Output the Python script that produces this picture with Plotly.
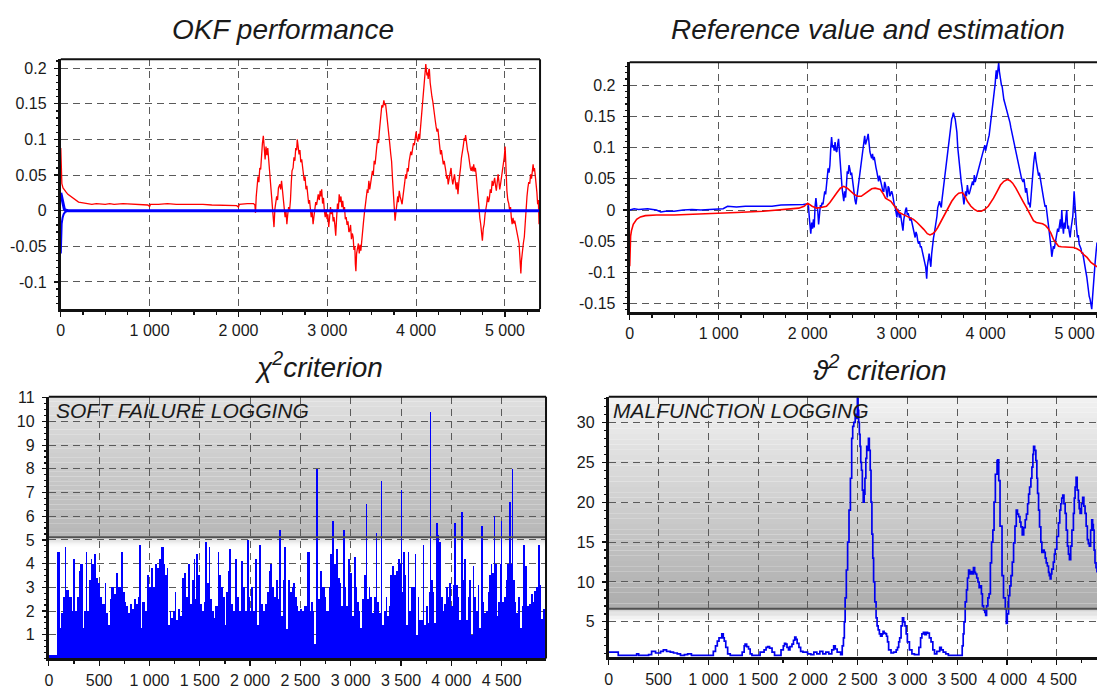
import plotly.graph_objects as go
import numpy as np

# ---------------- DATA ----------------
# Top-left: OKF performance (red = estimation error, blue = filter bounds)
TL_RED = [(0,0.088),(6,0.055),(12,0.038),(25,0.032),(40,0.029),(60,0.026),(80,0.023),(100,0.021),(130,0.018),(160,0.015),(200,0.012),(250,0.011),(300,0.010),(350,0.009),(400,0.010),(450,0.009),(500,0.009),(550,0.010),(600,0.009),(700,0.010),(800,0.009),(900,0.009),(980,0.008),(1000,0.006),(1010,0.009),(1100,0.009),(1200,0.010),(1300,0.009),(1400,0.009),(1500,0.010),(1600,0.009),(1700,0.008),(1800,0.008),(1900,0.007),(1980,0.007),(2000,0.005),(2010,0.009),(2100,0.010),(2170,0.010),(2185,0.008),(2192,-0.003),
(2200,0.020),(2210,0.035),(2220,0.048),(2230,0.040),(2240,0.060),(2250,0.058),(2260,0.080),(2270,0.095),(2280,0.105),(2290,0.085),(2300,0.072),(2310,0.090),(2320,0.078),(2330,0.088),(2340,0.070),(2350,0.064),(2360,0.045),(2370,0.030),(2380,0.010),(2390,-0.005),(2400,-0.023),(2410,0.002),(2420,0.009),(2430,0.020),(2440,0.015),(2450,0.032),(2466,0.037),(2475,0.030),(2485,0.042),(2495,0.030),(2505,0.018),(2515,0.005),(2525,-0.009),(2535,0.000),(2545,-0.019),(2555,-0.005),(2565,0.005),(2575,0.000),(2585,0.014),(2595,0.040),(2603,0.056),(2615,0.060),(2625,0.075),(2635,0.070),(2645,0.088),(2655,0.085),(2662,0.100),(2672,0.090),(2682,0.079),(2692,0.085),(2702,0.068),(2712,0.072),(2721,0.060),(2730,0.050),(2740,0.042),(2750,0.048),(2760,0.030),(2770,0.035),(2780,0.023),(2790,0.010),(2800,0.015),(2810,0.002),(2819,-0.009),(2830,-0.002),(2840,-0.019),(2850,-0.008),(2860,0.005),(2870,0.012),(2880,0.008),(2890,0.020),(2898,0.023),(2910,0.015),(2920,0.028),(2930,0.020),(2937,0.030),(2947,0.010),(2957,0.018),(2967,0.000),(2977,-0.009),(2987,0.002),(2997,-0.012),(3006,-0.005),(3016,-0.023),(3026,-0.010),(3036,0.005),(3046,-0.005),(3056,0.002),(3066,-0.015),(3075,-0.009),(3085,-0.020),(3095,-0.035),(3105,-0.010),(3115,0.010),(3125,0.002),(3134,0.023),(3144,0.012),(3154,0.020),(3164,0.005),(3174,0.014),(3184,0.000),(3194,0.005),(3203,-0.012),(3213,-0.009),(3223,-0.020),(3233,-0.015),(3243,-0.030),(3252,-0.028),(3262,-0.020),(3272,-0.040),(3282,-0.032),(3291,-0.037),(3300,-0.055),(3310,-0.050),(3316,-0.075),(3322,-0.085),(3330,-0.060),(3340,-0.050),(3350,-0.046),(3360,-0.060),(3370,-0.048),(3378,-0.056),(3390,-0.035),(3400,-0.025),(3409,-0.014),(3419,-0.002),(3429,0.009),(3440,0.020),(3450,0.030),(3458,0.025),(3468,0.042),(3478,0.030),(3488,0.037),(3498,0.048),(3508,0.056),(3518,0.050),(3528,0.070),(3538,0.065),(3547,0.083),(3557,0.090),(3567,0.100),(3577,0.095),(3586,0.111),(3596,0.125),(3606,0.135),(3614,0.148),(3625,0.145),(3637,0.155),(3647,0.148),(3656,0.150),(3665,0.140),(3675,0.125),(3685,0.111),(3695,0.100),(3704,0.093),(3714,0.080),(3724,0.069),(3734,0.045),(3744,0.028),(3754,0.005),(3763,-0.014),(3773,-0.002),(3783,0.009),(3793,0.020),(3800,0.012),(3810,0.028),(3820,0.020),(3830,0.015),(3842,0.009),(3852,0.020),(3862,0.028),(3872,0.040),(3881,0.051),(3891,0.045),(3901,0.060),(3911,0.055),(3921,0.069),(3930,0.075),(3940,0.083),(3950,0.078),(3960,0.088),(3970,0.095),(3980,0.092),(3990,0.105),(4000,0.111),(4010,0.100),(4020,0.097),(4030,0.108),(4040,0.100),(4046,0.111),(4056,0.125),(4066,0.139),(4076,0.150),(4086,0.171),(4096,0.185),(4103,0.195),(4109,0.206),(4115,0.198),(4122,0.190),(4129,0.194),(4136,0.185),(4143,0.198),(4149,0.199),(4158,0.180),(4168,0.167),(4178,0.160),(4188,0.153),(4198,0.140),(4206,0.135),(4215,0.127),(4225,0.118),(4235,0.111),(4245,0.115),(4255,0.102),(4265,0.090),(4275,0.079),(4285,0.085),(4296,0.070),(4306,0.065),(4316,0.070),(4325,0.058),(4334,0.056),(4344,0.045),(4352,0.050),(4361,0.037),(4371,0.045),(4382,0.055),(4393,0.060),(4403,0.045),(4413,0.037),(4423,0.045),(4432,0.051),(4442,0.040),(4452,0.030),(4462,0.040),(4471,0.023),(4481,0.040),(4490,0.056),(4500,0.060),(4510,0.074),(4520,0.080),(4530,0.090),(4542,0.102),(4550,0.098),(4557,0.106),(4567,0.092),(4578,0.085),(4589,0.079),(4599,0.068),(4610,0.060),(4620,0.056),(4630,0.062),(4640,0.055),(4648,0.065),(4658,0.055),(4667,0.060),(4676,0.051),(4686,0.035),(4696,0.015),(4707,0.000),(4717,-0.010),(4727,-0.019),(4737,-0.030),(4746,-0.042),(4756,-0.025),(4766,-0.019),(4776,-0.005),(4785,0.000),(4794,0.009),(4804,0.020),(4815,0.012),(4825,0.018),(4835,0.030),(4846,0.025),(4856,0.042),(4866,0.035),(4875,0.040),(4884,0.046),(4894,0.035),(4903,0.028),(4913,0.040),(4923,0.051),(4933,0.040),(4941,0.030),(4950,0.037),(4960,0.045),(4971,0.055),(4982,0.069),(4992,0.075),(5002,0.090),(5008,0.060),(5015,0.040),(5022,0.028),(5032,0.015),(5043,0.010),(5053,0.000),(5063,0.005),(5072,-0.010),(5081,-0.019),(5091,-0.010),(5100,-0.018),(5110,-0.014),(5120,-0.022),(5130,-0.028),(5140,-0.032),(5150,-0.040),(5159,-0.046),(5166,-0.060),(5172,-0.075),(5179,-0.088),(5186,-0.070),(5193,-0.060),(5199,-0.051),(5208,-0.045),(5218,-0.037),(5228,-0.015),(5238,0.000),(5248,0.020),(5258,0.032),(5268,0.040),(5279,0.038),(5289,0.051),(5299,0.045),(5308,0.055),(5317,0.065),(5325,0.055),(5332,0.060),(5340,0.051),(5350,0.040),(5360,0.025),(5368,0.009),(5376,0.015),(5384,-0.019),(5395,0.005)]
TL_BLUE_UP = [(0,0.025),(8,0.020),(16,0.012),(26,0.006),(40,0.002),(60,0.0005),(85,0.0),(5395,0.0)]
TL_BLUE_LO = [(0,-0.060),(4,-0.035),(10,-0.018),(20,-0.010),(32,-0.005),(48,-0.002),(65,-0.001),(85,0.0)]

# Top-right: reference value (blue) and estimation (red)
TR_BLUE = [(0,0.0),(50,0.002),(100,0.001),(200,0.002),(300,0.0),(350,-0.003),(400,-0.002),(500,-0.002),(600,0.0),(700,0.001),(800,0.0),(900,0.001),(1000,0.002),(1050,0.002),(1100,0.006),(1200,0.005),(1300,0.006),(1400,0.006),(1500,0.007),(1600,0.006),(1700,0.008),(1800,0.008),(1900,0.009),(1950,0.009),(2000,0.010),
(2010,0.005),(2020,-0.015),(2028,-0.025),(2035,-0.038),(2045,-0.020),(2055,-0.030),(2065,-0.015),(2074,-0.028),(2083,0.005),(2093,0.019),(2103,0.005),(2113,0.0),(2123,-0.023),(2133,-0.005),(2143,0.008),(2152,0.004),(2162,0.012),(2172,0.009),(2182,0.020),(2192,0.030),(2202,0.025),(2211,0.040),(2220,0.055),(2230,0.067),(2240,0.060),(2250,0.072),(2260,0.100),(2269,0.117),(2279,0.100),(2289,0.104),(2298,0.095),(2308,0.109),(2318,0.095),(2328,0.093),(2337,0.105),(2347,0.114),(2357,0.095),(2367,0.080),(2377,0.055),(2387,0.035),(2396,0.025),(2406,0.014),(2416,0.030),(2426,0.020),(2436,0.040),(2445,0.062),(2455,0.058),(2465,0.072),(2475,0.065),(2484,0.056),(2494,0.060),(2504,0.046),(2514,0.040),(2523,0.030),(2533,0.015),(2543,0.009),(2553,0.020),(2563,0.025),(2572,0.035),(2582,0.046),(2592,0.060),(2602,0.072),(2611,0.085),(2621,0.093),(2631,0.105),(2641,0.119),(2650,0.105),(2660,0.109),(2670,0.115),(2680,0.122),(2690,0.105),(2700,0.093),(2709,0.088),(2719,0.083),(2729,0.090),(2738,0.080),(2748,0.085),(2758,0.072),(2768,0.068),(2777,0.062),(2787,0.055),(2797,0.046),(2807,0.055),(2816,0.050),(2826,0.042),(2836,0.040),(2846,0.030),(2856,0.030),(2865,0.045),(2875,0.040),(2885,0.028),(2895,0.020),(2905,0.038),(2915,0.035),(2924,0.022),(2934,0.025),(2944,0.030),(2954,0.025),(2964,0.015),(2973,0.009),(2983,0.005),(2993,-0.002),(3003,-0.012),(3013,0.002),(3022,-0.005),(3032,-0.012),(3042,-0.005),(3052,-0.017),(3061,-0.025),(3071,-0.033),(3081,-0.015),(3091,-0.005),(3100,0.000),(3110,0.004),(3120,-0.008),(3130,-0.005),(3140,-0.012),(3150,-0.017),(3160,-0.012),(3170,-0.020),(3179,-0.023),(3189,-0.030),(3199,-0.038),(3208,-0.044),(3218,-0.035),(3228,-0.040),(3238,-0.050),(3247,-0.054),(3257,-0.050),(3267,-0.060),(3276,-0.058),(3286,-0.065),(3296,-0.070),(3306,-0.075),(3316,-0.080),(3326,-0.091),(3332,-0.100),(3338,-0.110),(3345,-0.090),(3352,-0.086),(3358,-0.078),(3365,-0.070),(3372,-0.082),(3378,-0.088),(3384,-0.091),(3394,-0.070),(3404,-0.054),(3414,-0.045),(3423,-0.038),(3433,-0.030),(3443,-0.023),(3453,-0.010),(3462,0.004),(3472,0.010),(3482,0.014),(3492,0.008),(3502,0.004),(3511,0.018),(3521,0.030),(3531,0.042),(3541,0.051),(3550,0.065),(3560,0.077),(3570,0.085),(3580,0.093),(3590,0.110),(3599,0.125),(3609,0.135),(3619,0.146),(3629,0.150),(3638,0.156),(3648,0.150),(3658,0.146),(3668,0.135),(3677,0.125),(3687,0.100),(3697,0.083),(3707,0.070),(3716,0.051),(3726,0.045),(3736,0.035),(3746,0.020),(3756,0.009),(3766,0.020),(3775,0.030),(3785,0.022),(3795,0.040),(3805,0.030),(3814,0.025),(3824,0.030),(3834,0.035),(3844,0.040),(3853,0.046),(3863,0.040),(3873,0.056),(3883,0.045),(3892,0.050),(3902,0.058),(3912,0.062),(3922,0.070),(3931,0.072),(3941,0.078),(3951,0.083),(3961,0.088),(3970,0.093),(3980,0.098),(3991,0.104),(4000,0.095),(4010,0.100),(4020,0.108),(4030,0.114),(4040,0.120),(4049,0.130),(4059,0.145),(4069,0.161),(4079,0.170),(4089,0.182),(4099,0.190),(4108,0.203),(4114,0.215),(4120,0.224),(4127,0.210),(4133,0.219),(4140,0.228),(4147,0.236),(4155,0.222),(4162,0.214),(4170,0.205),(4178,0.200),(4186,0.198),(4195,0.185),(4205,0.177),(4215,0.172),(4225,0.167),(4235,0.160),(4245,0.156),(4255,0.150),(4264,0.146),(4274,0.140),(4284,0.132),(4294,0.125),(4304,0.119),(4314,0.112),(4323,0.109),(4333,0.100),(4343,0.093),(4353,0.085),(4362,0.077),(4372,0.070),(4382,0.062),(4392,0.058),(4402,0.052),(4411,0.048),(4421,0.045),(4431,0.050),(4441,0.035),(4450,0.028),(4460,0.035),(4470,0.020),(4482,0.009),(4492,0.012),(4501,0.004),(4510,0.020),(4520,0.045),(4530,0.060),(4540,0.075),(4548,0.085),(4557,0.093),(4566,0.080),(4576,0.070),(4586,0.065),(4595,0.055),(4604,0.060),(4613,0.051),(4622,0.040),(4632,0.030),(4641,0.025),(4650,0.020),(4660,0.012),(4669,0.005),(4679,0.008),(4688,0.000),(4698,-0.015),(4707,-0.025),(4716,-0.035),(4725,-0.044),(4735,-0.060),(4744,-0.075),(4753,-0.065),(4762,-0.058),(4772,-0.062),(4781,-0.054),(4790,-0.048),(4800,-0.044),(4810,-0.030),(4820,-0.035),(4830,-0.020),(4840,-0.015),(4848,-0.030),(4856,0.000),(4866,-0.025),(4875,-0.038),(4884,-0.020),(4893,-0.030),(4903,-0.010),(4912,0.000),(4922,-0.030),(4931,-0.025),(4940,-0.035),(4950,-0.044),(4960,-0.030),(4969,-0.023),(4980,-0.010),(4988,0.010),(4995,0.030),(5004,0.010),(5010,-0.012),(5020,-0.025),(5032,-0.044),(5042,-0.040),(5052,-0.055),(5062,-0.059),(5072,-0.062),(5082,-0.070),(5090,-0.068),(5099,-0.075),(5108,-0.085),(5118,-0.090),(5128,-0.100),(5137,-0.107),(5146,-0.120),(5155,-0.130),(5164,-0.138),(5174,-0.143),(5184,-0.150),(5193,-0.159),(5202,-0.140),(5211,-0.117),(5220,-0.100),(5230,-0.086),(5240,-0.070),(5249,-0.054),(5252,-0.052)]
TR_RED = [(0,-0.090),(5,-0.060),(10,-0.042),(20,-0.033),(40,-0.023),(78,-0.015),(120,-0.011),(176,-0.009),(300,-0.008),(500,-0.008),(700,-0.007),(1000,-0.006),(1200,-0.004),(1500,-0.002),(1700,0.000),(1900,0.003),(1960,0.006),(2000,0.011),(2050,0.006),(2100,0.003),(2150,0.004),(2211,0.006),(2250,0.012),(2289,0.019),(2330,0.028),(2367,0.035),(2406,0.038),(2445,0.035),(2480,0.030),(2523,0.025),(2560,0.022),(2602,0.022),(2640,0.026),(2680,0.030),(2720,0.034),(2758,0.035),(2817,0.033),(2850,0.026),(2875,0.019),(2935,0.014),(2993,0.003),(3030,-0.004),(3071,-0.007),(3130,-0.011),(3189,-0.015),(3230,-0.020),(3267,-0.025),(3305,-0.031),(3345,-0.038),(3375,-0.040),(3404,-0.038),(3435,-0.034),(3462,-0.028),(3500,-0.018),(3541,-0.007),(3580,0.004),(3619,0.014),(3660,0.022),(3697,0.027),(3740,0.028),(3770,0.022),(3795,0.014),(3835,0.006),(3873,0.001),(3910,-0.002),(3951,-0.002),(3990,0.001),(4030,0.006),(4060,0.012),(4089,0.019),(4130,0.030),(4167,0.040),(4205,0.046),(4245,0.049),(4275,0.047),(4304,0.043),(4340,0.035),(4382,0.025),(4420,0.014),(4460,0.004),(4500,-0.008),(4538,-0.017),(4570,-0.020),(4600,-0.021),(4640,-0.022),(4675,-0.025),(4705,-0.030),(4734,-0.037),(4763,-0.047),(4792,-0.053),(4820,-0.058),(4851,-0.059),(4900,-0.059),(4949,-0.059),(4990,-0.060),(5027,-0.062),(5062,-0.065),(5106,-0.072),(5140,-0.076),(5184,-0.084),(5220,-0.088),(5252,-0.091)]

# Bottom-left: chi-square criterion (bar start positions, heights)
BL_BARS = [(0,0.15),(77,4.5),(100,4.5),(115,1.3),(125,1.9),(140,2.6),(158,4.7),(168,2.9),(185,2.9),(205,2.6),(228,2.0),(244,4.2),(260,2.0),(276,2.6),(295,3.7),(314,4.0),(336,1.3),(348,2.0),(366,4.5),(382,2.0),(400,3.3),(415,4.2),(432,4.0),(448,4.4),(466,3.4),(488,3.2),(512,2.6),(532,2.3),(555,3.2),(572,1.9),(592,1.4),(606,2.5),(620,3.0),(644,2.7),(664,3.6),(686,3.0),(718,4.5),(736,2.8),(754,2.4),(770,2.2),(790,1.9),(810,2.3),(828,2.1),(844,2.5),(862,2.3),(882,2.6),(897,4.8),(913,1.3),(928,2.4),(952,2.0),(975,3.5),(995,3.0),(1015,3.8),(1035,3.0),(1055,4.0),(1075,3.8),(1095,4.2),(1118,4.7),(1140,4.0),
(1157,3.5),(1175,3.8),(1187,1.4),(1200,2.0),(1218,1.7),(1234,2.0),(1250,2.8),(1266,1.6),(1283,2.1),(1300,1.8),(1325,3.4),(1345,3.6),(1365,2.6),(1385,4.0),(1400,2.3),(1418,3.3),(1438,4.2),(1452,2.5),(1465,4.4),(1484,3.5),(1504,2.3),(1524,2.0),(1538,2.4),(1555,4.9),(1570,3.2),(1587,4.7),(1604,2.5),(1622,2.0),(1637,1.7),(1655,2.2),(1680,4.5),(1696,3.5),(1715,3.0),(1735,2.6),(1750,1.4),(1762,2.8),(1778,3.7),(1795,4.6),(1815,2.3),(1835,2.0),(1848,4.2),(1867,2.6),(1887,2.0),(1907,4.1),(1927,3.0),(1947,2.0),(1967,5.0),(1986,2.6),(2000,2.0),(2013,3.0),(2032,2.0),(2052,4.2),(2072,1.4),(2092,4.8),(2108,2.3),(2125,2.0),(2145,2.3),(2165,2.8),(2185,3.7),(2198,4.0),(2217,3.0),(2237,2.6),(2257,3.3),(2277,2.5),(2292,5.4),(2307,1.8),(2323,3.3),
(2340,4.7),(2355,1.25),(2378,3.3),(2395,2.8),(2412,3.0),(2428,3.2),(2445,2.6),(2462,2.2),(2480,2.0),(2500,2.1),(2520,2.0),(2540,2.2),(2570,4.5),(2592,2.0),(2610,2.4),(2625,2.0),(2640,0.6),(2655,8.0),(2676,2.5),(2699,3.7),(2718,3.0),(2742,2.6),(2758,2.0),(2785,3.0),(2798,4.4),(2818,5.8),(2831,4.0),(2851,4.6),(2874,3.4),(2890,3.2),(2907,2.2),(2923,5.4),(2940,3.0),(2956,2.2),(2973,4.2),(2989,3.6),(3009,1.8),(3029,4.3),(3049,3.0),(3062,2.4),(3082,2.0),(3095,1.3),(3115,2.5),(3128,3.5),(3148,6.5),(3161,2.5),(3181,3.0),(3194,2.6),(3214,1.9),(3227,2.6),(3247,5.3),(3260,2.4),(3280,1.9),(3300,7.5),(3313,1.4),(3329,2.0),(3346,2.6),(3359,1.8),(3379,2.2),(3392,3.5),(3412,3.9),(3435,3.5),(3452,3.7),(3471,4.2),(3485,4.0),(3498,7.1),(3511,2.8),(3524,4.5),
(3535,3.5),(3551,1.4),(3568,4.5),(3584,2.0),(3600,3.0),(3617,3.0),(3637,4.4),(3650,1.0),(3667,2.6),(3683,1.6),(3700,1.6),(3716,4.8),(3733,1.4),(3749,2.2),(3766,1.5),(3776,2.8),(3789,10.4),(3802,3.3),(3815,2.8),(3832,1.5),(3848,5.7),(3865,5.2),(3881,4.9),(3898,2.6),(3914,2.0),(3931,2.3),(3947,3.0),(3964,2.6),(3980,3.2),(3997,2.2),(4013,3.1),(4030,5.7),(4046,3.1),(4063,2.6),(4079,1.6),(4096,6.2),(4112,3.3),(4129,4.2),(4145,1.6),(4162,2.6),(4178,3.3),(4195,1.0),(4211,3.9),(4228,2.6),(4244,2.0),(4261,3.1),(4277,1.3),(4294,5.6),(4310,2.4),(4327,1.9),(4343,2.0),(4360,2.8),(4376,3.5),(4393,4.0),(4409,3.6),(4426,6.0),(4436,4.0),(4449,1.8),(4466,2.4),(4482,4.0),(4495,5.8),(4508,2.4),(4525,2.6),(4541,3.3),(4558,4.0),(4575,6.6),(4591,4.0),(4601,8.0),(4617,3.3),(4634,2.4),(4647,1.9),(4667,2.6),(4680,1.3),(4700,2.2),(4713,4.8),
(4733,3.9),(4750,2.2),(4774,2.3),(4795,2.7),(4809,2.4),(4826,2.85),(4844,3.0),(4861,4.8),(4879,3.1),(4896,1.67),(4913,2.1)]
BL_END = 4941
BL_THRESHOLD = 5.11

# Bottom-right: theta-square criterion
BR_LINE = [(0,1.2),(90,1.2),(95,0.8),(250,0.8),(280,1.0),(300,0.8),(400,0.9),(430,1.3),(470,1.1),(520,1.3),(548,1.5),(580,1.3),(618,1.2),(650,1.1),(688,1.0),(720,0.8),(760,0.9),(792,1.0),(830,0.8),(900,0.8),(1020,0.8),(1050,1.3),(1072,2.0),(1090,2.6),(1107,3.0),(1135,3.5),(1150,3.0),(1160,2.6),(1175,1.8),(1194,1.0),(1220,0.8),(1300,0.8),(1340,1.2),(1360,2.0),(1369,2.2),(1385,1.9),(1404,1.6),(1420,1.0),(1438,0.8),(1480,0.8),(1520,1.2),(1560,1.5),(1580,1.8),(1596,1.9),(1615,1.7),(1640,1.2),(1665,0.8),(1700,0.8),(1730,1.5),(1753,2.0),(1765,2.3),(1777,2.2),(1790,1.8),(1805,1.5),(1820,1.9),(1840,2.2),(1855,2.7),(1868,3.1),(1880,2.8),(1892,2.3),(1910,1.8),(1927,1.3),(1950,1.2),(1997,1.0),(2030,0.9),(2060,1.2),(2090,1.0),(2120,1.3),(2150,1.0),(2180,1.2),(2210,1.0),(2240,1.5),(2259,2.0),(2275,1.6),(2294,1.2),(2329,0.9),(2345,2.0),(2357,3.0),(2366,5.0),(2374,8.0),(2386,11.5),(2399,15.0),(2413,19.0),(2427,23.0),(2440,28.0),(2450,29.5),(2461,30.0),(2475,31.0),(2486,30.5),(2497,33.0),(2504,31.5),(2510,30.0),(2517,28.5),(2524,27.0),(2531,25.0),(2538,24.0),(2547,21.5),(2556,20.0),(2565,21.0),(2573,23.0),(2582,25.5),(2591,27.0),(2600,26.5),(2608,28.0),(2617,26.5),(2626,24.0),(2634,20.0),(2643,16.0),(2652,13.0),(2660,10.0),(2672,7.5),(2685,5.5),(2695,4.5),(2706,4.0),(2718,3.5),(2730,3.2),(2745,3.5),(2755,3.8),(2765,3.6),(2780,3.5),(2790,3.2),(2800,2.5),(2811,1.5),(2835,1.1),(2860,1.2),(2887,1.5),(2900,1.8),(2912,2.5),(2922,3.0),(2936,4.5),(2950,5.5),(2962,5.0),(2975,4.5),(2987,3.5),(2999,2.5),(3020,1.5),(3045,1.0),(3070,0.9),(3097,0.9),(3115,1.8),(3132,3.0),(3145,3.5),(3160,3.7),(3175,3.4),(3190,3.7),(3202,3.6),(3220,3.0),(3237,2.5),(3255,1.5),(3272,1.0),(3295,1.3),(3324,1.8),(3340,1.5),(3359,1.2),(3385,1.0),(3411,0.8),(3470,0.8),(3533,0.8),(3550,2.0),(3560,3.5),(3568,5.0),(3580,7.5),(3593,9.0),(3603,10.5),(3614,11.5),(3625,11.0),(3638,11.3),(3650,11.0),(3663,11.8),(3675,11.2),(3684,11.0),(3696,10.5),(3708,10.0),(3720,9.3),(3732,9.5),(3743,8.5),(3753,7.0),(3765,6.5),(3777,6.2),(3786,5.8),(3795,7.0),(3808,8.0),(3820,8.5),(3833,12.4),(3845,15.0),(3858,16.5),(3870,20.0),(3883,23.5),(3900,25.2),(3907,25.3),(3917,22.7),(3930,17.0),(3950,10.8),(3965,8.0),(3983,6.6),(3993,4.8),(4003,6.0),(4016,8.3),(4028,9.5),(4040,10.8),(4053,12.5),(4066,14.9),(4080,17.0),(4093,19.0),(4105,18.5),(4117,18.2),(4130,17.5),(4140,16.9),(4153,15.9),(4168,16.8),(4183,17.8),(4195,18.5),(4207,19.8),(4217,21.0),(4227,21.9),(4240,23.0),(4250,24.4),(4260,26.0),(4267,27.0),(4278,26.5),(4290,25.2),(4300,23.0),(4307,21.1),(4317,19.0),(4327,16.9),(4340,15.0),(4350,13.7),(4362,14.0),(4374,13.7),(4384,13.0),(4394,12.4),(4405,12.0),(4417,11.2),(4425,10.8),(4434,10.4),(4442,11.0),(4450,11.6),(4465,12.5),(4476,13.5),(4484,14.1),(4500,15.7),(4517,17.4),(4530,19.0),(4540,19.8),(4550,20.5),(4560,20.9),(4572,19.8),(4584,18.6),(4595,16.5),(4607,14.5),(4617,13.5),(4627,12.8),(4640,14.5),(4652,16.5),(4667,18.6),(4676,20.5),(4684,21.9),(4694,23.1),(4705,21.5),(4717,20.2),(4725,19.2),(4734,18.6),(4748,19.8),(4760,20.6),(4772,19.5),(4784,18.6),(4795,17.0),(4807,15.3),(4817,14.8),(4827,14.5),(4840,16.5),(4851,17.8),(4860,17.2),(4867,16.5),(4875,14.0),(4884,12.4),(4894,11.8),(4904,11.2)]
BR_THRESHOLD = 6.65

TITLES = ["<i>OKF performance</i>", "<i>Reference value and estimation</i>",
          "<i>χ<sup>2</sup>criterion</i>", "<i>ϑ<sup>2</sup> criterion</i>"]
LABEL_BL = "<i>SOFT FAILURE LOGGING</i>"
LABEL_BR = "<i>MALFUNCTION LOGGING</i>"

TOP_XTICKS = [0, 1000, 2000, 3000, 4000, 5000]
TOP_XTEXT = ["0", "1 000", "2 000", "3 000", "4 000", "5 000"]
BOT_XTICKS = [0, 500, 1000, 1500, 2000, 2500, 3000, 3500, 4000, 4500]
BOT_XTEXT = ["0", "500", "1 000", "1 500", "2 000", "2 500", "3 000", "3 500", "4 000", "4 500"]
TL_YTICKS = [-0.1, -0.05, 0, 0.05, 0.1, 0.15, 0.2]
TL_YTEXT = ["-0.1", "-0.05", "0", "0.05", "0.1", "0.15", "0.2"]
TR_YTICKS = [-0.15, -0.1, -0.05, 0, 0.05, 0.1, 0.15, 0.2]
TR_YTEXT = ["-0.15", "-0.1", "-0.05", "0", "0.05", "0.1", "0.15", "0.2"]
BL_YTICKS = [1, 2, 3, 4, 5, 6, 7, 8, 9, 10, 11]
BR_YTICKS = [5, 10, 15, 20, 25, 30]

# ---------------- LAYOUT GEOMETRY (pixels) ----------------
W, H = 1097, 689
def fx(px): return px / W
def fy(py): return 1 - py / H

BOX = {  # left, right, top, bottom in pixels
    1: (57, 538, 53, 306),
    2: (628, 1097, 56, 309),
    3: (45, 544, 395, 660),
    4: (607, 1097, 395, 659),
}
RANGES = {1: ([0, 5395], [-0.138, 0.2125]),
          2: ([0, 5252], [-0.1634, 0.2368]),
          3: ([0, BL_END], [0, 11.04]),
          4: ([0, 4904], [0.55, 33.2])}

FONT = "Liberation Sans"
TXT = "#1a1a1a"
GRID = "#5a5a5a"
TICK_SIZE = 16

def xy(pairs):
    return [p[0] for p in pairs], [p[1] for p in pairs]

fig = go.Figure()

x, y = xy(TL_RED)
fig.add_trace(go.Scatter(x=x, y=y, mode="lines", line=dict(color="#ff0000", width=1.3), xaxis="x", yaxis="y"))
x, y = xy(TL_BLUE_UP)
fig.add_trace(go.Scatter(x=x, y=y, mode="lines", line=dict(color="#0000ff", width=3), xaxis="x", yaxis="y"))
x, y = xy(TL_BLUE_LO)
fig.add_trace(go.Scatter(x=x, y=y, mode="lines", line=dict(color="#0000ff", width=2), xaxis="x", yaxis="y"))

x, y = xy(TR_BLUE)
fig.add_trace(go.Scatter(x=x, y=y, mode="lines", line=dict(color="#0000ff", width=1.5), xaxis="x2", yaxis="y2"))
x, y = xy(TR_RED)
fig.add_trace(go.Scatter(x=x, y=y, mode="lines", line=dict(color="#ff0000", width=1.6), xaxis="x2", yaxis="y2"))

bx, by = xy(BL_BARS)
widths = list(np.diff(bx + [BL_END]))
fig.add_trace(go.Bar(x=bx, y=by, width=widths, offset=0, marker=dict(color="#0000ff", line=dict(width=0)),
                     xaxis="x3", yaxis="y3"))

x, y = xy(BR_LINE)
fig.add_trace(go.Scatter(x=x, y=y, mode="lines", line=dict(color="#0000ee", width=1.7, shape="hv"), xaxis="x4", yaxis="y4"))

shapes = []
def band_shapes(xref, yref, y0, y1, c0, c1, n):
    out = []
    for i in range(n):
        a = y0 + (y1 - y0) * i / n
        b = y0 + (y1 - y0) * (i + 1) / n
        t = (i + 0.5) / n
        c = int(round(c0 + (c1 - c0) * t))
        out.append(dict(type="rect", xref=xref + " domain", yref=yref, x0=0, x1=1, y0=a, y1=b,
                        fillcolor=f"rgb({c},{c},{c})", line=dict(width=0), layer="below"))
    return out

shapes += band_shapes("x3", "y3", BL_THRESHOLD, 11.04, 182, 224, 30)
shapes += band_shapes("x3", "y3", BL_THRESHOLD, BL_THRESHOLD - 0.4, 215, 255, 8)
shapes += band_shapes("x4", "y4", BR_THRESHOLD, 33.2, 172, 242, 40)
shapes += band_shapes("x4", "y4", BR_THRESHOLD, BR_THRESHOLD - 1.6, 205, 255, 10)

shapes.append(dict(type="line", xref="x3 domain", yref="y3", x0=0, x1=1, y0=BL_THRESHOLD, y1=BL_THRESHOLD,
                   line=dict(color="#505050", width=2), layer="above"))
shapes.append(dict(type="line", xref="x4 domain", yref="y4", x0=0, x1=1, y0=BR_THRESHOLD, y1=BR_THRESHOLD,
                   line=dict(color="#505050", width=2), layer="above"))

for k, (l, r, t, b) in BOX.items():
    shapes.append(dict(type="line", xref="paper", yref="paper", x0=fx(l), x1=fx(r), y0=fy(t), y1=fy(t),
                       line=dict(color="#111", width=2)))
    if r < W - 1:
        shapes.append(dict(type="line", xref="paper", yref="paper", x0=fx(r), x1=fx(r), y0=fy(b), y1=fy(t),
                           line=dict(color="#111", width=2)))

layout = dict(width=W, height=H, margin=dict(l=0, r=0, t=0, b=0, pad=0), showlegend=False,
              paper_bgcolor="white", plot_bgcolor="white", bargap=0, shapes=shapes,
              font=dict(family=FONT, size=TICK_SIZE, color=TXT))

def xaxis(k, tv, tt, minor_dt):
    l, r, t, b = BOX[k]
    return dict(domain=[fx(l), fx(r)], range=RANGES[k][0], anchor=("y" if k == 1 else f"y{k}"),
                tickvals=tv, ticktext=tt, ticks="outside", ticklen=5, tickwidth=1.2, tickcolor="#111",
                showline=True, linewidth=3, linecolor="#111", showgrid=True, gridcolor=GRID, griddash="7px,5px",
                gridwidth=1, zeroline=False, fixedrange=True,
                minor=dict(dtick=minor_dt, tick0=0, ticks="outside", ticklen=3, tickcolor="#111", showgrid=False),
                tickfont=dict(family=FONT, size=TICK_SIZE, color=TXT))

def yaxis(k, tv, tt, minor_dt):
    l, r, t, b = BOX[k]
    return dict(domain=[fy(b), fy(t)], range=RANGES[k][1], anchor=("x" if k == 1 else f"x{k}"),
                tickvals=tv, ticktext=tt, ticks="outside", ticklen=4, tickwidth=1.2, tickcolor="#111",
                showline=True, linewidth=3, linecolor="#111", showgrid=True, gridcolor=GRID, griddash="7px,5px",
                gridwidth=1, zeroline=False, fixedrange=True, ticklabelstandoff=4,
                minor=dict(dtick=minor_dt, ticks="outside", ticklen=2, tickcolor="#111", showgrid=False),
                tickfont=dict(family=FONT, size=TICK_SIZE, color=TXT))

layout["xaxis"] = xaxis(1, TOP_XTICKS, TOP_XTEXT, 250)
layout["yaxis"] = yaxis(1, TL_YTICKS, TL_YTEXT, 0.01)
layout["xaxis2"] = xaxis(2, TOP_XTICKS, TOP_XTEXT, 250)
layout["yaxis2"] = yaxis(2, TR_YTICKS, TR_YTEXT, 0.01)
layout["xaxis3"] = xaxis(3, BOT_XTICKS, BOT_XTEXT, 250)
layout["yaxis3"] = yaxis(3, BL_YTICKS, [str(v) for v in BL_YTICKS], 0.25)
layout["xaxis4"] = xaxis(4, BOT_XTICKS, BOT_XTEXT, 250)
layout["yaxis4"] = yaxis(4, BR_YTICKS, [str(v) for v in BR_YTICKS], 1)

ann = []
title_pos = [(280, 23), (867, 23), (316, 363), (879, 366)]
for txt, (px, py) in zip(TITLES, title_pos):
    ann.append(dict(text=txt, xref="paper", yref="paper", x=fx(px), y=fy(py), xanchor="center", yanchor="middle",
                    showarrow=False, font=dict(family=FONT, size=28, color=TXT)))
ann.append(dict(text=LABEL_BL, xref="paper", yref="paper", x=fx(50), y=fy(409), xanchor="left", yanchor="middle",
                showarrow=False, font=dict(family=FONT, size=21, color=TXT)))
ann.append(dict(text=LABEL_BR, xref="paper", yref="paper", x=fx(609), y=fy(409), xanchor="left", yanchor="middle",
                showarrow=False, font=dict(family=FONT, size=21, color=TXT)))
layout["annotations"] = ann

fig.update_layout(**layout)
fig.write_html("out.html", config={"displayModeBar": False, "staticPlot": True},
               post_script="document.body.style.margin='0';document.body.style.overflow='hidden';")
